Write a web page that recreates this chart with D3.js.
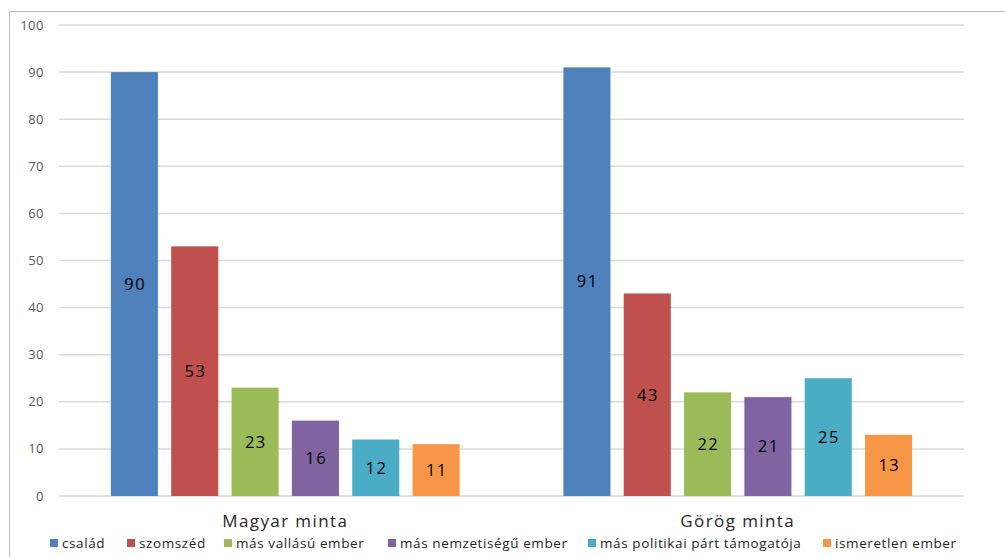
<!DOCTYPE html>
<html lang="hu">
<head>
  <meta charset="UTF-8">
  <title>Magyar és görög minta</title>
  <style>
    body { margin: 0; background: #fff; font-family: "Open Sans", sans-serif; }
    .grid line { stroke: #d9d9d9; stroke-width: 1.5px; }
    .tick-label { fill: #595959; font-size: 13px; letter-spacing: 0.5px; }
    .val { fill: #000; font-size: 16.5px; letter-spacing: 1.5px; }
    .cat { fill: #262626; font-size: 17px; letter-spacing: 1.4px; }
    .leg text { fill: #262626; font-size: 13.5px; letter-spacing: 0.6px; }
  </style>
</head>
<body>
  <svg width="1005" height="557"></svg>

  <script src="https://d3js.org/d3.v7.min.js"></script>
  <script>
    const groups = ["Magyar minta", "Görög minta"];
    const series = ["család", "szomszéd", "más vallású ember", "más nemzetiségű ember",
                    "más politikai párt támogatója", "ismeretlen ember"];
    const magyar = [90, 53, 23, 16, 12, 11];
    const gorog = [91, 43, 22, 21, 25, 13];
    const colors = ["#4f81bd", "#c0504d", "#9bbb59", "#8064a2", "#4bacc6", "#f79646"];
    const yTicks = [0, 10, 20, 30, 40, 50, 60, 70, 80, 90, 100];

    const values = { "Magyar minta": magyar, "Görög minta": gorog };

    const svg = d3.select("svg");

    // outer frame (cropped on the right and bottom)
    svg.append("rect")
      .attr("x", 9.5).attr("y", 11.5)
      .attr("width", 1010).attr("height", 560)
      .attr("fill", "none").attr("stroke", "#bfbfbf");

    const x0 = d3.scaleBand().domain(groups).range([59, 964]);
    const x1 = d3.scaleBand().domain(series)
      .range([0, x0.bandwidth()])
      .paddingInner(0.22).paddingOuter(0.86);
    const y = d3.scaleLinear().domain([0, 100]).range([496, 25]);
    const color = d3.scaleOrdinal().domain(series).range(colors);

    // gridlines
    svg.append("g").attr("class", "grid")
      .selectAll("line").data(yTicks).join("line")
      .attr("x1", 59).attr("x2", 964)
      .attr("y1", d => y(d)).attr("y2", d => y(d));

    svg.append("g").selectAll("text").data(yTicks).join("text")
      .attr("class", "tick-label")
      .attr("x", 44).attr("y", d => y(d))
      .attr("dy", "0.35em").attr("text-anchor", "end")
      .text(d => d);

    const g = svg.append("g").selectAll("g").data(groups).join("g")
      .attr("transform", d => `translate(${x0(d)},0)`);

    const bars = g.selectAll("g.bar")
      .data(d => series.map((s, i) => ({ s, v: values[d][i] })))
      .join("g").attr("class", "bar");

    bars.append("rect")
      .attr("x", d => x1(d.s))
      .attr("width", x1.bandwidth())
      .attr("y", d => y(d.v))
      .attr("height", d => y(0) - y(d.v))
      .attr("fill", d => color(d.s));

    bars.append("text")
      .attr("class", "val")
      .attr("x", d => x1(d.s) + x1.bandwidth() / 2 + 0.75)
      .attr("y", d => (y(d.v) + y(0)) / 2)
      .attr("dy", "0.35em").attr("text-anchor", "middle")
      .text(d => d.v);

    svg.append("g").selectAll("text").data(groups).join("text")
      .attr("class", "cat")
      .attr("x", d => x0(d) + x0.bandwidth() / 2)
      .attr("y", 521).attr("dy", "0.35em")
      .attr("text-anchor", "middle")
      .text(d => d);

    // legend
    const legX = [50, 127, 224, 388, 588, 823];
    const leg = svg.append("g").attr("class", "leg")
      .selectAll("g").data(series).join("g")
      .attr("transform", (d, i) => `translate(${legX[i]},543)`);
    leg.append("rect").attr("x", 0).attr("y", -4).attr("width", 8).attr("height", 8)
      .attr("fill", d => color(d));
    leg.append("text").attr("x", 12).attr("dy", "0.35em").text(d => d);
  </script>
</body>
</html>
